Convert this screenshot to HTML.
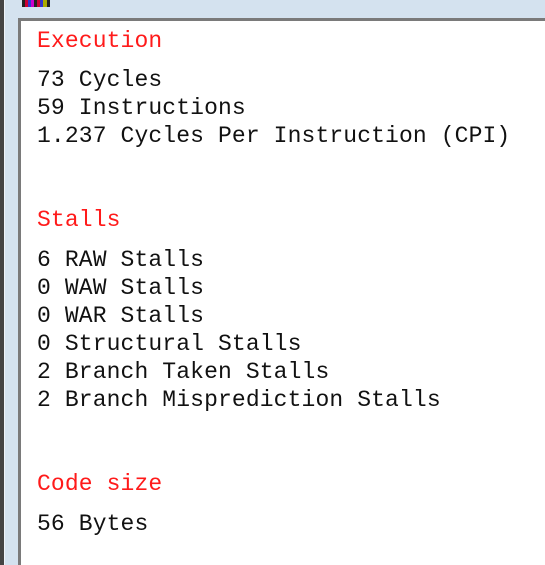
<!DOCTYPE html>
<html><head><style>
body{margin:0;width:545px;height:565px;overflow:hidden;background:#d4e2ef;position:relative;font-family:"Liberation Mono",monospace;}
.l{position:absolute;left:37px;font-size:23px;line-height:28px;height:28px;white-space:pre;color:#111;letter-spacing:0.12px}
.r{color:#ff1a1a}
</style></head><body>
<div style="position:absolute;left:0;top:0;width:4px;height:565px;background:#444"></div>
<div style="position:absolute;left:4px;top:0;width:1px;height:565px;background:#eef3f8"></div>
<div style="position:absolute;left:22px;top:0;width:28px;height:7px;background:linear-gradient(90deg,#222 0,#222 3px,#c03 3px,#c03 6px,#33c 6px,#33c 9px,#c0c 9px,#c0c 12px,#222 12px,#222 15px,#c03 15px,#c03 18px,#33c 18px,#33c 21px,#aa0 21px,#aa0 25px,#222 25px)"></div>
<div style="position:absolute;left:18px;top:18px;width:527px;height:3px;background:#7a7a7a"></div>
<div style="position:absolute;left:18px;top:18px;width:3px;height:547px;background:#7a7a7a"></div>
<div style="position:absolute;left:21px;top:21px;width:524px;height:544px;background:#fff"></div>
<div class="l r" style="top:27px">Execution</div>
<div class="l" style="top:66px">73 Cycles</div>
<div class="l" style="top:94px">59 Instructions</div>
<div class="l" style="top:122px">1.237 Cycles Per Instruction (CPI)</div>
<div class="l r" style="top:206px">Stalls</div>
<div class="l" style="top:246px">6 RAW Stalls</div>
<div class="l" style="top:274px">0 WAW Stalls</div>
<div class="l" style="top:302px">0 WAR Stalls</div>
<div class="l" style="top:330px">0 Structural Stalls</div>
<div class="l" style="top:358px">2 Branch Taken Stalls</div>
<div class="l" style="top:386px">2 Branch Misprediction Stalls</div>
<div class="l r" style="top:470px">Code size</div>
<div class="l" style="top:510px">56 Bytes</div>
</body></html>
